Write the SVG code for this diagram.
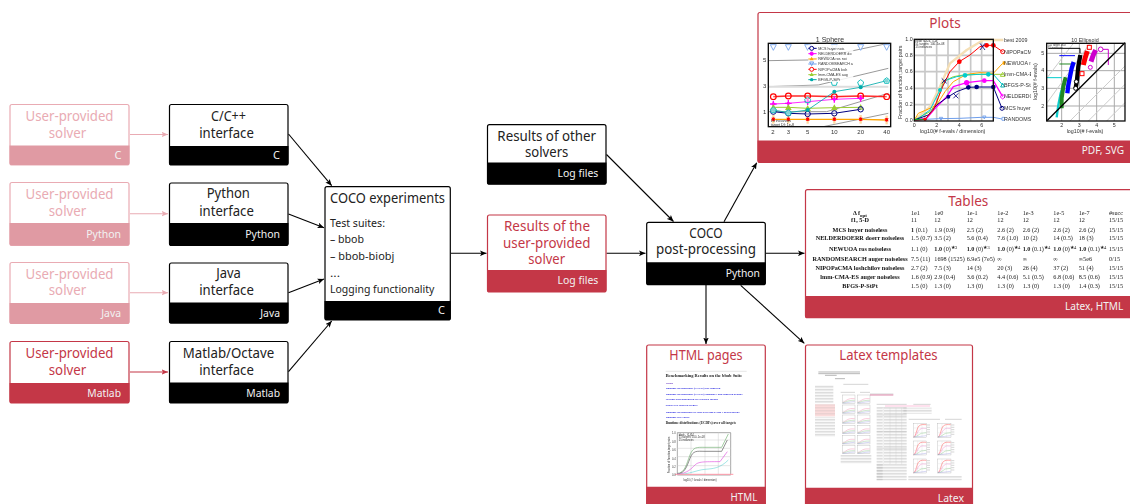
<svg xmlns="http://www.w3.org/2000/svg" width="1130" height="504" viewBox="0 0 1130 504" font-family="'Noto Sans','Open Sans',sans-serif">
<style>
.box{fill:#fff;stroke-width:1.2}
.t{font-size:14px;text-anchor:middle}
.f{font-size:11px;text-anchor:end;fill:#f2f2f2}
.title{font-size:15px;text-anchor:middle;fill:#c43747}
.black .box{stroke:#000}.black .foot{fill:#000}.black .t{fill:#222}
.red .box{stroke:#c43747}.red .foot{fill:#c43747}.red .t{fill:#c43747}
.pale .box{stroke:#e9abb3}.pale .foot{fill:#e09aa3}.pale .t{fill:#e9abb3}
.cn{fill:none;stroke:#000;stroke-width:1.1;marker-end:url(#a)}
.cnp{fill:none;stroke:#e9abb3;stroke-width:1.1;marker-end:url(#ap)}
.cnr{fill:none;stroke:#c43747;stroke-width:1.1;marker-end:url(#ar)}
.exp{font-size:11px;fill:#222}
.l{fill:none;stroke-linejoin:round}
.g{fill:none;stroke:#c8c8c8;stroke-width:5}
.fr{fill:none;stroke:#111;stroke-width:4}
.s{font-family:"Liberation Sans",sans-serif;fill:#333}
.tb{font-family:"Liberation Serif",serif;font-size:6.2px;fill:#222}
.tbn{font-family:"Liberation Serif",serif;font-size:6.2px;font-weight:bold;fill:#111;text-anchor:middle}
.ser{font-family:"Liberation Serif",serif;font-weight:bold;fill:#222}
.lnk{font-family:"Liberation Serif",serif;font-size:2.9px;fill:#2a2ae0;font-weight:bold}
.tx{fill:url(#lines)}
.blur{filter:url(#bl)}
.thumb{fill:#fff;stroke:#aaa;stroke-width:1}
</style>
<defs>
<filter id="bl" x="-5%" y="-5%" width="110%" height="110%"><feGaussianBlur stdDeviation="0.3"/></filter>
<marker id="a" markerUnits="userSpaceOnUse" markerWidth="7" markerHeight="6" refX="6.5" refY="3" orient="auto"><path d="M0 .2L6.5 3 0 5.8 1.5 3z" fill="#000"/></marker>
<marker id="ap" markerUnits="userSpaceOnUse" markerWidth="7" markerHeight="6" refX="6.5" refY="3" orient="auto"><path d="M0 .2L6.5 3 0 5.8 1.5 3z" fill="#e9abb3"/></marker>
<marker id="ar" markerUnits="userSpaceOnUse" markerWidth="7" markerHeight="6" refX="6.5" refY="3" orient="auto"><path d="M0 .2L6.5 3 0 5.8 1.5 3z" fill="#c43747"/></marker>
<marker id="mn" markerUnits="userSpaceOnUse" markerWidth="26" markerHeight="26" refX="13" refY="13"><circle cx="13" cy="13" r="8" fill="#fff" fill-opacity=".3" stroke="#000080" stroke-width="3"/></marker>
<marker id="mm" markerUnits="userSpaceOnUse" markerWidth="26" markerHeight="26" refX="13" refY="13"><path d="M13 3V23M3 13H23" stroke="#f0f" stroke-width="4"/><circle cx="13" cy="13" r="5" fill="#f0f"/></marker>
<marker id="mo" markerUnits="userSpaceOnUse" markerWidth="30" markerHeight="30" refX="15" refY="15"><path d="M15 2V28" stroke="#ffd9a0" stroke-width="7"/><path d="M15 8l6 11H9z" fill="#f00"/><path d="M15 21l-6-11h12z" fill="#f00"/></marker>
<marker id="mr" markerUnits="userSpaceOnUse" markerWidth="26" markerHeight="26" refX="13" refY="13"><circle cx="13" cy="13" r="8.5" fill="#fff" fill-opacity=".2" stroke="#f00" stroke-width="3.5"/></marker>
<marker id="mg" markerUnits="userSpaceOnUse" markerWidth="26" markerHeight="26" refX="13" refY="13"><path d="M13 3l10 18H3z" fill="#9acd32"/></marker>
<marker id="mc" markerUnits="userSpaceOnUse" markerWidth="22" markerHeight="22" refX="11" refY="11"><circle cx="11" cy="11" r="6" fill="#0aa"/></marker>
<symbol id="pent" overflow="visible"><path d="M0-9L9-2 6 8H-6L-9-2z" fill="#fff" fill-opacity=".5" stroke="#1bc0c0" stroke-width="3"/></symbol>
<symbol id="tri" overflow="visible"><path d="M-9-8H9L0 9z" fill="#fff" stroke="#6d9eeb" stroke-width="2.5"/></symbol>
<pattern id="lines" width="6" height="4.5" patternUnits="userSpaceOnUse"><path d="M0 1H6" stroke="#aaa" stroke-width="1.3"/></pattern>
<g id="mini">
<rect x="0" y="0" width="38" height="25" class="thumb"/>
<path d="M1 22C8 21 12 14 20 12S30 11 37 11" fill="none" stroke="#e8a" stroke-width="1.3"/>
<path d="M1 23C10 22 14 18 22 17S30 16 37 16" fill="none" stroke="#8c8" stroke-width="1.3"/>
<path d="M1 18H37" stroke="#ddd" stroke-width="1"/>
<path d="M1 24C12 24 20 21 37 20" fill="none" stroke="#88d" stroke-width="1"/>
</g>
<g id="minib">
<rect x="0" y="0" width="40" height="42" class="thumb"/>
<path d="M13 0V42M26 0V42M0 14H40M0 28H40" stroke="#ddd" stroke-width="1"/>
<path d="M1 41C8 40 10 14 17 8S30 4 39 4" fill="none" stroke="#f55" stroke-width="1.5"/>
<path d="M1 41C10 38 12 24 20 18S30 16 39 15" fill="none" stroke="#e8c" stroke-width="1.3"/>
<path d="M1 41C12 40 18 32 24 30S33 30 39 28" fill="none" stroke="#8c8" stroke-width="1.3"/>
<path d="M1 41C14 41 26 38 39 37" fill="none" stroke="#88d" stroke-width="1"/>
<path d="M41 5H50M41 12H50M41 19H50M41 26H50M41 33H50" stroke="#aaa" stroke-width="1.5"/>
</g>
</defs>

<g id="connectors">
<path class="cnp" d="M130 134.5H168"/>
<path class="cnp" d="M130 213.7H168"/>
<path class="cnp" d="M130 292.7H168"/>
<path class="cnr" d="M130 372H168"/>
<path class="cn" d="M288.5 134L331.7 185.7"/>
<path class="cn" d="M288.5 214L324 227.7"/>
<path class="cn" d="M288.5 292.7L324 279"/>
<path class="cn" d="M288.5 371.7L331.7 321"/>
<path class="cn" d="M451 253.3H486.5"/>
<path class="cn" d="M606.5 154.5L673.5 221.5"/>
<path class="cn" d="M606.5 253.3H645.5"/>
<path class="cn" d="M766 253.3H804.5"/>
<path class="cn" d="M724 221.7L756.7 162.7"/>
<path class="cn" d="M706 285V344"/>
<path class="cn" d="M740.7 285.3L804.3 343.3"/>
</g>

<g id="solver-c" class="pale">
<rect class="box" x="10" y="104.5" width="119" height="60.5" rx="2"/>
<path class="foot" d="M9.5 145.5H129.5V163a2 2 0 0 1-2 2H11.5a2 2 0 0 1-2-2z"/>
<text class="t" x="69.5" y="121" textLength="88" lengthAdjust="spacingAndGlyphs">User-provided</text>
<text class="t" x="67.5" y="138" textLength="37.5" lengthAdjust="spacingAndGlyphs">solver</text>
<text class="f" x="121.5" y="159">C</text>
</g>
<g id="solver-python" class="pale">
<rect class="box" x="10" y="182.5" width="119" height="63" rx="2"/>
<path class="foot" d="M9.5 223H129.5V243.5a2 2 0 0 1-2 2H11.5a2 2 0 0 1-2-2z"/>
<text class="t" x="69.5" y="199" textLength="88" lengthAdjust="spacingAndGlyphs">User-provided</text>
<text class="t" x="67.5" y="215.7" textLength="37.5" lengthAdjust="spacingAndGlyphs">solver</text>
<text class="f" x="121" y="238" textLength="34.7" lengthAdjust="spacingAndGlyphs">Python</text>
</g>
<g id="solver-java" class="pale">
<rect class="box" x="10" y="262.5" width="119" height="61" rx="2"/>
<path class="foot" d="M9.5 303H129.5V322a2 2 0 0 1-2 2H11.5a2 2 0 0 1-2-2z"/>
<text class="t" x="69.5" y="279.3" textLength="88" lengthAdjust="spacingAndGlyphs">User-provided</text>
<text class="t" x="67.5" y="295" textLength="37.5" lengthAdjust="spacingAndGlyphs">solver</text>
<text class="f" x="121" y="317" textLength="19.7" lengthAdjust="spacingAndGlyphs">Java</text>
</g>
<g id="solver-matlab" class="red">
<rect class="box" x="10" y="341.5" width="119" height="61.5" rx="2"/>
<path class="foot" d="M9.5 383H129.5V401a2 2 0 0 1-2 2H11.5a2 2 0 0 1-2-2z"/>
<text class="t" x="69.5" y="358.3" textLength="88" lengthAdjust="spacingAndGlyphs">User-provided</text>
<text class="t" x="67.5" y="375" textLength="37.5" lengthAdjust="spacingAndGlyphs">solver</text>
<text class="f" x="121" y="397.3" textLength="33.7" lengthAdjust="spacingAndGlyphs">Matlab</text>
</g>

<g id="iface-c" class="black">
<rect class="box" x="169.5" y="104.5" width="118.5" height="60.5" rx="2"/>
<path class="foot" d="M169 146H288.5V163a2 2 0 0 1-2 2H171a2 2 0 0 1-2-2z"/>
<text class="t" x="228.5" y="121" textLength="35" lengthAdjust="spacingAndGlyphs">C/C++</text>
<text class="t" x="226.5" y="138" textLength="54.7" lengthAdjust="spacingAndGlyphs">interface</text>
<text class="f" x="280" y="159">C</text>
</g>
<g id="iface-python" class="black">
<rect class="box" x="169.5" y="183" width="118.5" height="62.5" rx="2"/>
<path class="foot" d="M169 223H288.5V243.5a2 2 0 0 1-2 2H171a2 2 0 0 1-2-2z"/>
<text class="t" x="228.3" y="198" textLength="43.3" lengthAdjust="spacingAndGlyphs">Python</text>
<text class="t" x="226.5" y="215.7" textLength="54.7" lengthAdjust="spacingAndGlyphs">interface</text>
<text class="f" x="280" y="237.7" textLength="34.7" lengthAdjust="spacingAndGlyphs">Python</text>
</g>
<g id="iface-java" class="black">
<rect class="box" x="169.5" y="263" width="118.5" height="60" rx="2"/>
<path class="foot" d="M169 302.5H288.5V321.5a2 2 0 0 1-2 2H171a2 2 0 0 1-2-2z"/>
<text class="t" x="228.5" y="278" textLength="24.7" lengthAdjust="spacingAndGlyphs">Java</text>
<text class="t" x="226.5" y="295" textLength="54.7" lengthAdjust="spacingAndGlyphs">interface</text>
<text class="f" x="280" y="316.5" textLength="19.7" lengthAdjust="spacingAndGlyphs">Java</text>
</g>
<g id="iface-matlab" class="black">
<rect class="box" x="169.5" y="341.5" width="118.5" height="61.5" rx="2"/>
<path class="foot" d="M169 382.5H288.5V401a2 2 0 0 1-2 2H171a2 2 0 0 1-2-2z"/>
<text class="t" x="228.5" y="358.3" textLength="91.3" lengthAdjust="spacingAndGlyphs">Matlab/Octave</text>
<text class="t" x="226.5" y="375" textLength="54.7" lengthAdjust="spacingAndGlyphs">interface</text>
<text class="f" x="280" y="397" textLength="33.7" lengthAdjust="spacingAndGlyphs">Matlab</text>
</g>

<g id="coco-experiments" class="black">
<rect class="box" x="325" y="186.7" width="125.3" height="133.3" rx="2"/>
<path class="foot" d="M324.5 301H450.8V318a2 2 0 0 1-2 2H326.5a2 2 0 0 1-2-2z"/>
<text class="t" x="387.5" y="203.3" textLength="115" lengthAdjust="spacingAndGlyphs">COCO experiments</text>
<text class="exp" x="330" y="227.3" textLength="55" lengthAdjust="spacingAndGlyphs">Test suites:</text>
<text class="exp" x="330" y="243.3" textLength="34" lengthAdjust="spacingAndGlyphs">– bbob</text>
<text class="exp" x="330" y="260" textLength="64.3" lengthAdjust="spacingAndGlyphs">– bbob-biobj</text>
<text class="exp" x="330" y="277" textLength="10" lengthAdjust="spacingAndGlyphs">...</text>
<text class="exp" x="330" y="293.3" textLength="104.3" lengthAdjust="spacingAndGlyphs">Logging functionality</text>
<text class="f" x="445" y="314.3">C</text>
</g>

<g id="results-other" class="black">
<rect class="box" x="487.5" y="124.7" width="118.5" height="59.5" rx="2"/>
<path class="foot" d="M487 162.5H606.5V182.3a2 2 0 0 1-2 2H489a2 2 0 0 1-2-2z"/>
<text class="t" x="546.7" y="140.7" textLength="98.7" lengthAdjust="spacingAndGlyphs">Results of other</text>
<text class="t" x="546.7" y="156.7" textLength="43.3" lengthAdjust="spacingAndGlyphs">solvers</text>
<text class="f" x="598.3" y="177.3" textLength="40.7" lengthAdjust="spacingAndGlyphs">Log files</text>
</g>
<g id="results-user" class="red">
<rect class="box" x="487.5" y="215" width="118.5" height="77" rx="2"/>
<path class="foot" d="M487 270H606.5V290a2 2 0 0 1-2 2H489a2 2 0 0 1-2-2z"/>
<text class="t" x="547" y="231" textLength="86" lengthAdjust="spacingAndGlyphs">Results of the</text>
<text class="t" x="546.7" y="247.7" textLength="87.3" lengthAdjust="spacingAndGlyphs">user-provided</text>
<text class="t" x="546.7" y="264" textLength="36.7" lengthAdjust="spacingAndGlyphs">solver</text>
<text class="f" x="598.3" y="284" textLength="40.7" lengthAdjust="spacingAndGlyphs">Log files</text>
</g>
<g id="coco-postprocessing" class="black">
<rect class="box" x="646.7" y="222.3" width="118.6" height="62.4" rx="2"/>
<path class="foot" d="M646.2 262.3H765.8V282.7a2 2 0 0 1-2 2H648.2a2 2 0 0 1-2-2z"/>
<text class="t" x="706" y="238.3" textLength="33.3" lengthAdjust="spacingAndGlyphs">COCO</text>
<text class="t" x="706" y="254.3" textLength="100" lengthAdjust="spacingAndGlyphs">post-processing</text>
<text class="f" x="760" y="277.3" textLength="34.3" lengthAdjust="spacingAndGlyphs">Python</text>
</g>

<g id="plots" class="red">
<rect class="box" x="758" y="12.5" width="380" height="150" rx="2"/>
<path class="foot" d="M757.5 140.5H1135V162.5H759.5a2 2 0 0 1-2-2z"/>
<text class="title" x="945" y="28" textLength="31.3" lengthAdjust="spacingAndGlyphs">Plots</text>
<text class="f" x="1124" y="153.5" textLength="42.3" lengthAdjust="spacingAndGlyphs">PDF, SVG</text>
<g class="blur" transform="translate(760 30) scale(.3333)">
<path d="M24 92L145 90 385 40M24 170L175 165 385 115M24 245L200 245 385 190M190 290L385 250" fill="none" stroke="#999" stroke-width="3"/>
<path d="M24 170H385" stroke="#ddd" stroke-width="6"/>
<polyline class="l" points="40,268 85,268 143,268 223,268 302,268 380,270" stroke="#ffa500" stroke-width="4" marker-start="url(#mo)" marker-mid="url(#mo)" marker-end="url(#mo)"/>
<polyline class="l" points="40,200 85,198 143,198 223,200 302,198 380,200" stroke="#f66" stroke-width="5"/>
<polyline class="l" points="40,200 85,198 143,198 223,200 302,198 380,200" stroke="#f00" stroke-width="2" marker-start="url(#mr)" marker-mid="url(#mr)" marker-end="url(#mr)"/>
<polyline class="l" points="40,222 85,220 143,215 223,208 302,205" stroke="#f0f" stroke-width="2.5" marker-start="url(#mm)" marker-mid="url(#mm)" marker-end="url(#mm)"/>
<polyline class="l" points="40,232 85,232 143,235 223,233 302,232" stroke="#9acd32" stroke-width="3" marker-start="url(#mg)" marker-mid="url(#mg)" marker-end="url(#mg)"/>
<polyline class="l" points="40,245 85,250 143,252 223,250 302,238" stroke="#000080" stroke-width="3" marker-start="url(#mn)" marker-mid="url(#mn)" marker-end="url(#mn)"/>
<polyline class="l" points="40,240 85,248 143,240 223,185 302,172 380,152" stroke="#0aa" stroke-width="2.5" marker-start="url(#mc)" marker-mid="url(#mc)" marker-end="url(#mc)"/>
<use href="#pent" x="223" y="158"/><use href="#pent" x="302" y="158"/><use href="#pent" x="380" y="152"/><use href="#pent" x="143" y="210"/><use href="#pent" x="40" y="240"/><use href="#pent" x="85" y="248"/>
<use href="#tri" x="40" y="52"/><use href="#tri" x="85" y="52"/><use href="#tri" x="143" y="52"/><use href="#tri" x="223" y="52"/><use href="#tri" x="302" y="52"/><use href="#tri" x="380" y="52"/>
<rect x="145" y="44" width="135" height="112" fill="#fff" fill-opacity=".85"/>
<g stroke-width="3">
<path d="M145 55H170" stroke="#000080"/><circle cx="155" cy="55" r="6" fill="#fff" stroke="#000080"/>
<path d="M145 71H170" stroke="#f0f"/><circle cx="155" cy="71" r="5" fill="#f0f" stroke="#f0f"/>
<path d="M145 87H170" stroke="#ffa500"/><path d="M155 80l6 11h-12z" fill="#ffa500"/>
<path d="M145 102H170" stroke="#6d9eeb"/><path d="M149 96h12l-6 11z" fill="none" stroke="#6d9eeb"/>
<path d="M145 118H170" stroke="#f00"/><circle cx="155" cy="118" r="6" fill="#fff" stroke="#f00"/>
<path d="M145 134H170" stroke="#9acd32"/><path d="M155 127l6 11h-12z" fill="#9acd32"/>
<path d="M145 149H170" stroke="#0aa"/><circle cx="155" cy="149" r="5" fill="#0aa"/>
</g>
<g class="s" font-size="11">
<text x="175" y="59">MCS huyer nois</text>
<text x="175" y="75">NELDERDOERR do</text>
<text x="175" y="91">NEWUOA ros noi</text>
<text x="175" y="106">RANDOMSEARCH a</text>
<text x="175" y="122">NIPOPaCMA losh</text>
<text x="175" y="138">lmm-CMA-ES aug</text>
<text x="175" y="153">BFGS-P-StPt</text>
<text x="32" y="275">15 instances</text>
<text x="32" y="287">target Df: 1e-8</text>
</g>
<rect x="25" y="40" width="367" height="250" class="fr"/>
<g class="s" font-size="18" text-anchor="middle">
<text x="210" y="36" font-size="21">1 Sphere</text>
<text x="39" y="311">2</text><text x="85" y="311">3</text><text x="143" y="311">5</text><text x="223" y="311">10</text><text x="302" y="311">20</text><text x="380" y="311">40</text>
<text x="14" y="96">5</text><text x="14" y="174">3</text><text x="14" y="251">1</text>
</g>
</g>
<g class="blur" transform="translate(890 30) scale(.3333)">
<clipPath id="c2"><rect x="0" y="0" width="423" height="320"/></clipPath>
<path class="g" d="M73 76H310M73 125H310M73 175H310M73 224H310M105 28V272M140 28V272M174 28V272M208 28V272M242 28V272M275 28V272"/>
<polyline class="l" points="80,265 120,230 150,170 180,100 230,60 280,30 340,30" stroke="#f5dfb5" stroke-width="7"/>
<polyline class="l" points="73,270 85,250 120,235 140,225 165,185 190,155 230,133 270,128 310,130 338,100" stroke="#ffa500" stroke-width="3"/>
<polyline class="l" points="73,270 120,245 140,220 160,155 190,140 220,135 270,133 310,133 340,133" stroke="#9acd32" stroke-width="3"/>
<polyline class="l" points="73,272 90,262 120,240 150,180 170,150 200,140 230,135 270,133 310,133 338,165" stroke="#0cc" stroke-width="3"/>
<polyline class="l" points="73,270 110,265 140,230 170,200 190,170 230,158 280,152 310,152 338,200" stroke="#f0f" stroke-width="4"/>
<polyline class="l" points="73,270 115,255 140,225 175,200 200,185 235,172 260,171 310,171 336,235" stroke="#000080" stroke-width="3"/>
<polyline class="l" points="73,272 105,268 130,240 160,165 180,125 208,95 240,75 270,50 290,46 310,46 338,65" stroke="#f00" stroke-width="3"/>
<polyline class="l" points="73,270 145,266 210,265 275,262 310,262 336,267" stroke="#6d9eeb" stroke-width="3"/>
<path d="M73 268H110" stroke="#0a0" stroke-width="3"/>
<g fill="#f00"><circle cx="105" cy="268" r="5"/><circle cx="208" cy="95" r="7"/><circle cx="290" cy="46" r="7"/><circle cx="310" cy="46" r="7"/><circle cx="338" cy="65" r="6" fill="none" stroke="#f00" stroke-width="3"/></g>
<g fill="#000080"><circle cx="175" cy="200" r="6"/><circle cx="235" cy="172" r="7"/><circle cx="260" cy="171" r="7"/><circle cx="310" cy="171" r="7"/><circle cx="336" cy="235" r="6" fill="none" stroke="#000080" stroke-width="3"/></g>
<path d="M190 190L205 205M205 190L190 205M270 40L285 60M285 40L270 60M155 145L170 160M170 145L155 160" stroke="#000080" stroke-width="2.5"/>
<g fill="#0cc"><circle cx="150" cy="180" r="6"/><circle cx="225" cy="136" r="7"/><circle cx="295" cy="133" r="7"/></g>
<path d="M338 160l6 11h-12z" fill="none" stroke="#0aa" stroke-width="3"/>
<path d="M338 127l7 12h-14z" fill="none" stroke="#9acd32" stroke-width="3"/>
<path d="M338 94h8v10h-8z" fill="#ffa500"/>
<path d="M338 193l8 7-8 7-8-7z" fill="none" stroke="#f0f" stroke-width="3"/>
<g fill="#f0f"><circle cx="230" cy="158" r="8"/><circle cx="283" cy="152" r="7"/></g>
<path d="M148 262h10l-5 9zM278 258h10l-5 9zM336 262h8v9h-8z" fill="none" stroke="#6d9eeb" stroke-width="2.5"/>
<rect x="73" y="28" width="237" height="245" class="fr"/>
<g class="s" font-size="9">
<text x="76" y="36">bbob f1-f24, 5-D</text>
<text x="76" y="45">51 targets: 100..1e-08</text>
<text x="76" y="54">15 instances</text>
</g>
<g class="s" font-size="16" text-anchor="end">
<text x="68" y="33">1.0</text><text x="68" y="81">0.8</text><text x="68" y="130">0.6</text><text x="68" y="180">0.4</text><text x="68" y="229">0.2</text><text x="68" y="277">0.0</text>
</g>
<g class="s" font-size="16" text-anchor="middle">
<text x="73" y="290">0</text><text x="140" y="290">2</text><text x="208" y="290">4</text><text x="275" y="290">6</text>
<text x="188" y="308">log10(# f-evals / dimension)</text>
<text transform="translate(36 157) rotate(-90)">Fraction of function,target pairs</text>
</g>
<g class="s" font-size="16" clip-path="url(#c2)">
<text x="342" y="36">best 2009</text><text x="342" y="71">NIPOPaCM</text><text x="342" y="105">NEWUOA n</text><text x="342" y="137">lmm-CMA-E</text><text x="342" y="170">BFGS-P-St</text><text x="342" y="204">NELDERDO</text><text x="342" y="240">MCS huyer</text><text x="342" y="273">RANDOMSE</text>
</g>
</g>
<g class="blur" transform="translate(1030 30) scale(.3333)">
<path d="M50 70H285M50 122H285M50 175H285M50 228H285M95 40V273M148 40V273M200 40V273M253 40V273" fill="none" stroke="#aaa" stroke-width="3"/>
<path d="M120 273L285 108M175 273L285 163M230 273L285 218M50 220L180 40M50 145L130 40" fill="none" stroke="#ccc" stroke-width="3"/>
<path d="M50 143H95" fill="none" stroke="#0cc" stroke-width="3"/>
<path d="M88 102H130" fill="none" stroke="#282" stroke-width="3"/>
<path d="M88 77H135" fill="none" stroke="#00f" stroke-width="3"/>
<path d="M55 55H150V70" fill="none" stroke="#000" stroke-width="3"/>
<path d="M205 58H235V105" fill="none" stroke="#c0c" stroke-width="3"/>
<path d="M80 262L85 225 92 190 100 165" fill="none" stroke="#1cc" stroke-width="7"/>
<path d="M95 235L95 205 100 170 107 142" fill="none" stroke="#282" stroke-width="12"/>
<path d="M112 190L115 165 120 140 125 115 131 96" fill="none" stroke="#00f" stroke-width="13"/>
<path d="M137 175L141 150 145 110 151 75" fill="none" stroke="#000" stroke-width="13"/>
<circle cx="137" cy="175" r="6" fill="#fff" stroke="#000" stroke-width="3"/><circle cx="139" cy="155" r="6" fill="#fff" stroke="#000" stroke-width="3"/>
<path d="M160 105L165 85 172 63" fill="none" stroke="#f00" stroke-width="15"/>
<rect x="150" y="125" width="12" height="12" fill="#fff" stroke="#f00" stroke-width="3"/><rect x="172" y="46" width="12" height="12" fill="#fff" stroke="#f00" stroke-width="3"/>
<path d="M183 95L190 75 197 60" fill="none" stroke="#c0c" stroke-width="15"/>
<circle cx="181" cy="112" r="6" fill="#fff" stroke="#c0c" stroke-width="3"/><circle cx="212" cy="58" r="7" fill="#fff" stroke="#c0c" stroke-width="3"/>
<path d="M50 273L285 38" fill="none" stroke="#000" stroke-width="4"/>
<rect x="50" y="40" width="235" height="233" class="fr"/>
<g class="s" font-size="8">
<text x="54" y="47">5-D target 1e-8</text>
<text x="54" y="57">15 instances</text>
</g>
<g class="s" font-size="16" text-anchor="middle">
<text x="165" y="36">10 Ellipsoid</text>
<text x="95" y="290">2</text><text x="148" y="290">3</text><text x="200" y="290">4</text><text x="253" y="290">5</text>
<text x="38" y="75">5</text><text x="38" y="127">4</text><text x="38" y="180">3</text><text x="38" y="233">2</text>
<text x="165" y="310">log10(# f-evals)</text>
<text transform="translate(21 155) rotate(-90)">log10(# f-evals)</text>
</g>
</g>
</g>

<g id="tables" class="red">
<rect class="box" x="805.5" y="189.7" width="330" height="128" rx="2"/>
<path class="foot" d="M805 296H1135V318H807a2 2 0 0 1-2-2z"/>
<text class="title" x="968.3" y="205.7" textLength="40" lengthAdjust="spacingAndGlyphs">Tables</text>
<text class="f" x="1123.3" y="309.7" textLength="58.3" lengthAdjust="spacingAndGlyphs">Latex, HTML</text>
<g class="blur">
<text class="tbn" x="860" y="215">Δ f<tspan font-size="5" dy="1.5">opt</tspan></text>
<text class="tbn" x="860" y="222.3">f1, 5-D</text>
<text class="tbn" x="860" y="231.7">MCS huyer noiseless</text>
<text class="tbn" x="860" y="240.3">NELDERDOERR doerr noiseless</text>
<text class="tbn" x="860" y="250.7">NEWUOA ros noiseless</text>
<text class="tbn" x="860" y="260.7">RANDOMSEARCH auger noiseless</text>
<text class="tbn" x="860" y="269.7">NIPOPaCMA loshchilov noiseless</text>
<text class="tbn" x="860" y="278.7">lmm-CMA-ES auger noiseless</text>
<text class="tbn" x="860" y="288">BFGS-P-StPt</text>
<g class="tb">
<text x="911" y="215">1e1</text><text x="934.3" y="215">1e0</text><text x="966.7" y="215">1e-1</text><text x="997.3" y="215">1e-2</text><text x="1022.7" y="215">1e-3</text><text x="1053.3" y="215">1e-5</text><text x="1078.7" y="215">1e-7</text><text x="1109" y="215">#succ</text>
<text x="911" y="222.3">11</text><text x="934.3" y="222.3">12</text><text x="966.7" y="222.3">12</text><text x="997.3" y="222.3">12</text><text x="1022.7" y="222.3">12</text><text x="1053.3" y="222.3">12</text><text x="1078.7" y="222.3">12</text><text x="1109" y="222.3">15/15</text>
<text x="911" y="231.7"><tspan font-weight="bold">1</tspan> (0.1)</text><text x="934.3" y="231.7">1.9 (0.9)</text><text x="966.7" y="231.7">2.5 (2)</text><text x="997.3" y="231.7">2.6 (2)</text><text x="1022.7" y="231.7">2.6 (2)</text><text x="1053.3" y="231.7">2.6 (2)</text><text x="1078.7" y="231.7">2.6 (2)</text><text x="1109" y="231.7">15/15</text>
<text x="911" y="240.3">1.5 (0.7)</text><text x="934.3" y="240.3">3.5 (2)</text><text x="966.7" y="240.3">5.6 (0.4)</text><text x="997.3" y="240.3">7.6 (1.0)</text><text x="1022.7" y="240.3">10 (2)</text><text x="1053.3" y="240.3">14 (0.5)</text><text x="1078.7" y="240.3">18 (3)</text><text x="1109" y="240.3">15/15</text>
<text x="911" y="250.7">1.1 (0)</text><text x="934.3" y="250.7"><tspan font-weight="bold">1.0</tspan> (0)<tspan font-size="5" dy="-2">★3</tspan></text><text x="966.7" y="250.7"><tspan font-weight="bold">1.0</tspan> (0)<tspan font-size="5" dy="-2">★3</tspan></text><text x="997.3" y="250.7"><tspan font-weight="bold">1.0</tspan> (0)<tspan font-size="5" dy="-2">★4</tspan></text><text x="1022.7" y="250.7"><tspan font-weight="bold">1.0</tspan> (0.1)<tspan font-size="5" dy="-2">★4</tspan></text><text x="1053.3" y="250.7"><tspan font-weight="bold">1.0</tspan> (0)<tspan font-size="5" dy="-2">★4</tspan></text><text x="1078.7" y="250.7"><tspan font-weight="bold">1.0</tspan> (0.1)<tspan font-size="5" dy="-2">★4</tspan></text><text x="1109" y="250.7">15/15</text>
<text x="911" y="260.7">7.5 (11)</text><text x="934.3" y="260.7">1698 (1525)</text><text x="966.7" y="260.7">6.9e5 (7e5)</text><text x="997.3" y="260.7">∞</text><text x="1022.7" y="260.7">∞</text><text x="1053.3" y="260.7">∞</text><text x="1078.7" y="260.7">∞5e6</text><text x="1109" y="260.7">0/15</text>
<text x="911" y="269.7">2.7 (2)</text><text x="934.3" y="269.7">7.5 (3)</text><text x="966.7" y="269.7">14 (3)</text><text x="997.3" y="269.7">20 (3)</text><text x="1022.7" y="269.7">26 (4)</text><text x="1053.3" y="269.7">37 (2)</text><text x="1078.7" y="269.7">51 (4)</text><text x="1109" y="269.7">15/15</text>
<text x="911" y="278.7">1.6 (0.9)</text><text x="934.3" y="278.7">2.9 (0.4)</text><text x="966.7" y="278.7">3.6 (0.2)</text><text x="997.3" y="278.7">4.4 (0.6)</text><text x="1022.7" y="278.7">5.1 (0.5)</text><text x="1053.3" y="278.7">6.8 (0.6)</text><text x="1078.7" y="278.7">8.5 (0.6)</text><text x="1109" y="278.7">15/15</text>
<text x="911" y="288">1.5 (0)</text><text x="934.3" y="288">1.3 (0)</text><text x="966.7" y="288">1.3 (0)</text><text x="997.3" y="288">1.3 (0)</text><text x="1022.7" y="288">1.3 (0)</text><text x="1053.3" y="288">1.3 (0)</text><text x="1078.7" y="288">1.4 (0.3)</text><text x="1109" y="288">15/15</text>
</g>
</g>
</g>

<g id="html-pages" class="red">
<rect class="box" x="646.7" y="345" width="118.6" height="165" rx="2"/>
<path class="foot" d="M646.2 486.7H765.8V510H646.2z"/>
<text class="title" x="706" y="360" textLength="73.3" lengthAdjust="spacingAndGlyphs">HTML pages</text>
<text class="f" x="757.3" y="500.7" textLength="26.7" lengthAdjust="spacingAndGlyphs">HTML</text>
<g class="blur">
<path d="M665.7 371.3H746.7" stroke="#ccc" stroke-width=".5"/>
<text class="ser" x="665.7" y="376.7" font-size="4.4">Benchmarking Results on the bbob Suite</text>
<text class="lnk" x="665.7" y="384" style="fill:#6a3ac0">Home</text>
<text class="lnk" x="665.7" y="389.3">Runtime distributions (ECDFs) per function</text>
<text class="lnk" x="665.7" y="394.7">Runtime distributions (ECDFs) summary and function groups</text>
<text class="lnk" x="665.7" y="400.3">Scaling with dimension for selected targets</text>
<text class="lnk" x="665.7" y="406.3">Tables for selected targets</text>
<text class="lnk" x="665.7" y="412.7">Runtime distribution for selected targets and f-distributions</text>
<text class="lnk" x="665.7" y="418">Runtime loss ratios</text>
<text class="ser" x="665.7" y="424" font-size="3.5">Runtime distributions (ECDFs) over all targets</text>
</g>
<g class="blur" transform="translate(640 340) scale(.3333)">
<path d="M112 278H272V405H112z" fill="none" stroke="#555" stroke-width="1.5"/>
<path d="M112 300H272M112 325H272M112 350H272M112 377H272M153 278V405M195 278V405M235 278V405" stroke="#ccc" stroke-width="1.5"/>
<path d="M112 400C135 400 140 370 150 345S170 322 195 322L245 322 265 282" fill="none" stroke="#6a6" stroke-width="1.8"/>
<path d="M112 402C135 400 140 380 150 355S170 334 195 334L245 334 262 300" fill="none" stroke="#444" stroke-width="1.8"/>
<path d="M112 402C140 402 155 385 165 375S190 365 240 365L262 335" fill="none" stroke="#d4d" stroke-width="1.8"/>
<path d="M112 403C150 403 170 390 195 388S240 385 265 360" fill="none" stroke="#4cc" stroke-width="1.5"/>
<path d="M105 403H280" stroke="#f9a" stroke-width="3"/>
<g class="s" font-size="8">
<text x="116" y="287">bbob - f1-f24</text>
<text x="116" y="295">51 targets: 100..1e-08</text>
<text x="116" y="303">15 instances</text>
<text x="96" y="283">1.0</text><text x="96" y="309">0.8</text><text x="96" y="334">0.6</text><text x="96" y="359">0.4</text><text x="96" y="384">0.2</text><text x="96" y="408">0.0</text>
<text x="130" y="424">log10 (# f-evals / dimension)</text>
<text transform="translate(90 400) rotate(-90)">Fraction of function,target pairs</text>
</g>
</g>
</g>

<g id="latex-templates" class="red">
<rect class="box" x="805.5" y="345" width="167" height="165" rx="2"/>
<path class="foot" d="M805 487.7H973V510H805z"/>
<text class="title" x="888.5" y="360" textLength="98.3" lengthAdjust="spacingAndGlyphs">Latex templates</text>
<text class="f" x="964" y="501.7" textLength="26.3" lengthAdjust="spacingAndGlyphs">Latex</text>
<g class="blur" transform="translate(810 365) scale(.3333)">
<path d="M25 21H150M25 26H150M45 31H80M75 41H105" stroke="#888" stroke-width="1.8"/>
<rect x="15" y="60" width="55" height="55" class="tx"/>
<rect x="15" y="118" width="60" height="36" fill="#fdd"/>
<rect x="15" y="118" width="60" height="36" class="tx" opacity=".6"/>
<rect x="15" y="156" width="60" height="60" class="tx"/>
<path d="M92 82H135M100 58H175M150 82H180M180 87H250" stroke="#aaa" stroke-width="1.5"/>
<use href="#mini" x="97" y="90"/><use href="#mini" x="142" y="90"/>
<use href="#mini" x="97" y="120"/><use href="#mini" x="142" y="120"/>
<use href="#mini" x="97" y="150"/><use href="#mini" x="142" y="150"/>
<use href="#mini" x="97" y="181"/><use href="#mini" x="142" y="181"/>
<use href="#mini" x="97" y="212"/><use href="#mini" x="142" y="212"/>
<use href="#mini" x="97" y="241"/><use href="#mini" x="142" y="241"/>
<rect x="92" y="270" width="92" height="26" class="tx"/>
<path d="M180 90H250" stroke="#d8a" stroke-width="3"/>
<path d="M200 118H290M310 118H362" stroke="#aaa" stroke-width="1.5"/>
<path d="M225 123H360" stroke="#f8b" stroke-width="1.5"/>
<rect x="280" y="128" width="85" height="18" class="tx"/>
<rect x="200" y="128" width="18" height="218" class="tx"/>
<rect x="222" y="128" width="68" height="170" class="tx"/>
<rect x="200" y="298" width="90" height="48" class="tx"/>
<path d="M200 128H290M200 150H290M200 200H290M200 250H290" stroke="#aaa" stroke-width="1"/>
<path d="M220 128V298M240 128V298M258 128V298M275 128V298" stroke="#ccc" stroke-width="1"/>
<path d="M296 163H390M405 163H455" stroke="#aaa" stroke-width="1.5"/>
<use href="#minib" x="310" y="175"/><use href="#minib" x="383" y="175"/>
<use href="#minib" x="310" y="228"/><use href="#minib" x="383" y="228"/>
<use href="#minib" x="310" y="282"/><use href="#minib" x="383" y="282"/>
<rect x="295" y="333" width="160" height="13" class="tx"/>
</g>
</g>
</svg>
